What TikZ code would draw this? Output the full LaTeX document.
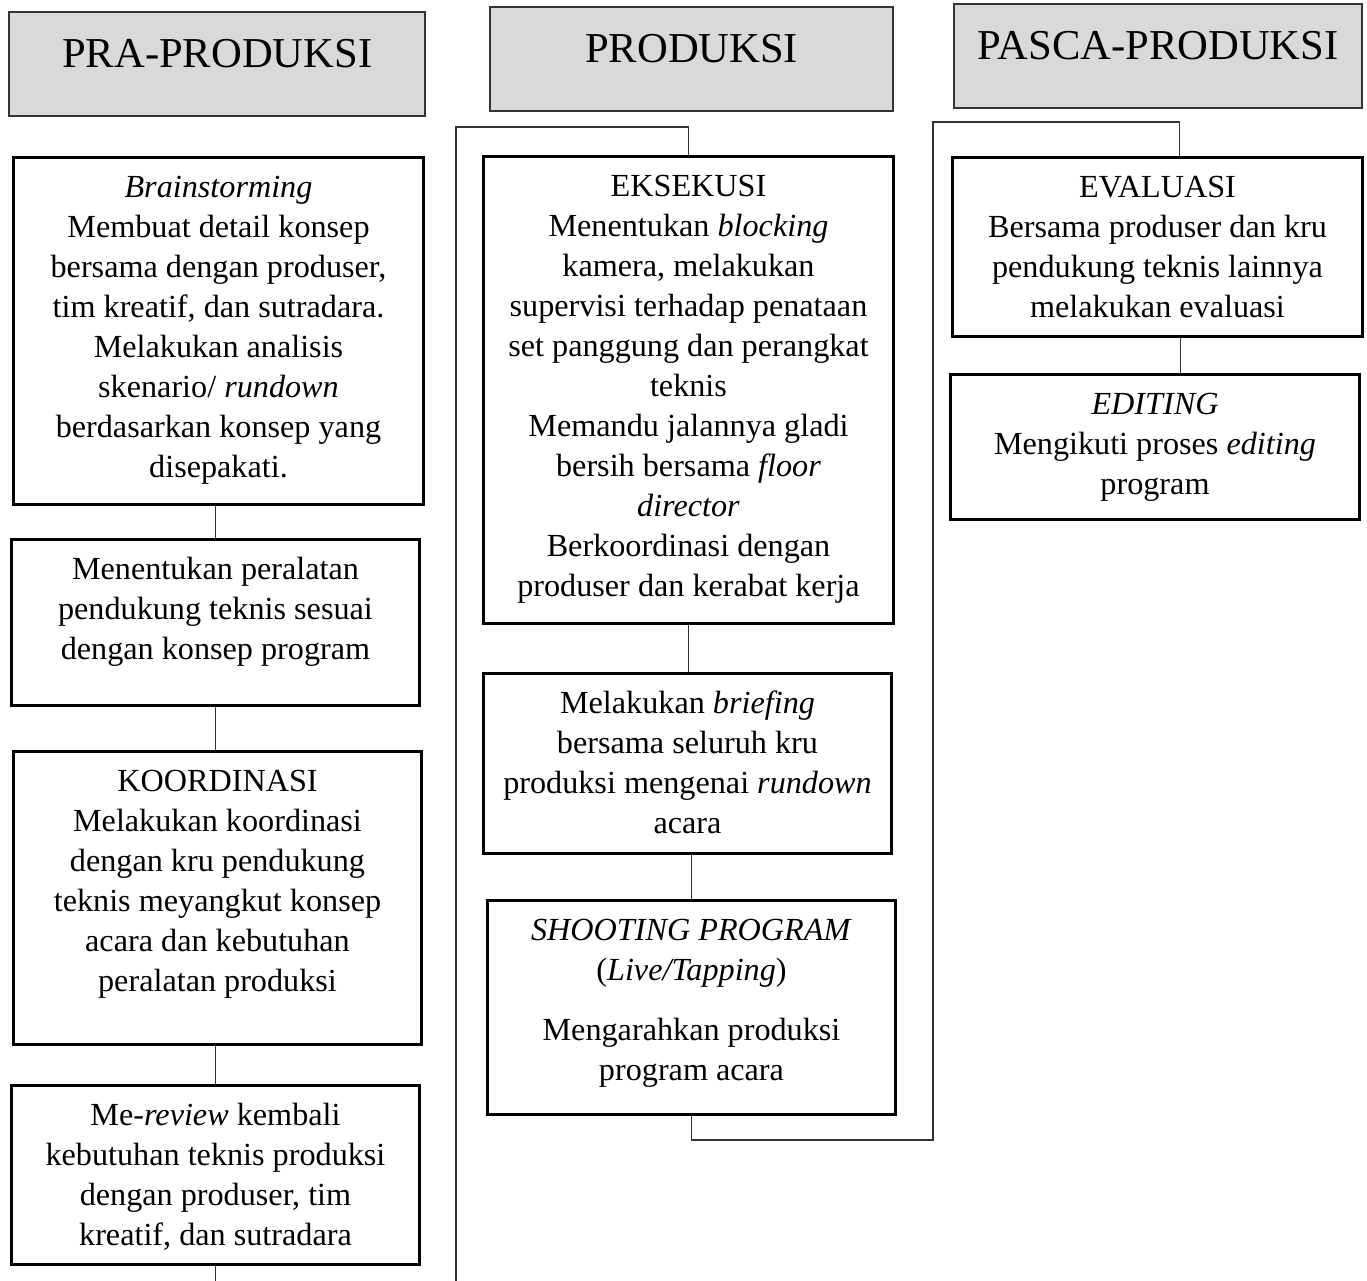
\documentclass[tikz,border=0pt]{standalone}
\usepackage{fontspec}
\setmainfont{Liberation Serif}
\usetikzlibrary{positioning}

\begin{document}
\begin{tikzpicture}[x=0.5pt, y=-0.5pt,
    kepala/.style={draw=black!80, line width=1.2pt, fill=black!15, anchor=north west, inner sep=0pt, text height=27.5pt, text depth=24.5pt, font=\fontsize{21.3}{25.6}\selectfont},
    kotak/.style={draw, line width=1.5pt, anchor=north west, inner sep=0pt},
    isi/.style={anchor=north, inner sep=0pt, align=center, font=\fontsize{16.1}{20}\selectfont},
    garis/.style={line width=0.7pt, black!80}]
    \useasboundingbox (0,0) rectangle (1367,1281);

    % Pra-produksi
    \node[kepala, minimum width=208pt] (pra) at (8,11) {PRA-PRODUKSI};
    \node[kotak, minimum width=205pt, minimum height=173.5pt] (b1) at (12,156) {};
    \node[isi] (tb1) at ([yshift=-6.5pt]b1.north) {\strut\textit{Brainstorming}\\ Membuat detail konsep\\ bersama dengan produser,\\ tim kreatif, dan sutradara.\\ Melakukan analisis\\ skenario/ \textit{rundown}\\ berdasarkan konsep yang\\ disepakati.};
    \node[kotak, minimum width=204pt, minimum height=83pt] (b2) at (10,538) {};
    \node[isi] (tb2) at ([yshift=-6.5pt]b2.north) {\strut Menentukan peralatan\\ pendukung teknis sesuai\\ dengan konsep program};
    \node[kotak, minimum width=204pt, minimum height=146.5pt] (b3) at (12,750) {};
    \node[isi] (tb3) at ([yshift=-6.5pt]b3.north) {\strut KOORDINASI\\ Melakukan koordinasi\\ dengan kru pendukung\\ teknis meyangkut konsep\\ acara dan kebutuhan\\ peralatan produksi};
    \node[kotak, minimum width=204pt, minimum height=89.5pt] (b4) at (10,1084) {};
    \node[isi] (tb4) at ([yshift=-6.5pt]b4.north) {\strut Me-\textit{review} kembali\\ kebutuhan teknis produksi\\ dengan produser, tim\\ kreatif, dan sutradara};

    \draw[garis] (b2.north |- b1.south) -- (b2.north);
    \draw[garis] (b2.south) -- (b2.south |- b3.north);
    \draw[garis] (b4.north |- b3.south) -- (b4.north);
    \coordinate (bawah1) at (213,1281);
    \draw[garis] (b4.south) -- (b4.south |- bawah1);

    % Produksi
    \node[kepala, minimum width=201.5pt] (prod) at (489,6) {PRODUKSI};
    \node[kotak, minimum width=205pt, minimum height=233.5pt] (e1) at (482,155) {};
    \node[isi] (te1) at ([yshift=-6.5pt]e1.north) {\strut EKSEKUSI\\ Menentukan \textit{blocking}\\ kamera, melakukan\\ supervisi terhadap penataan\\ set panggung dan perangkat\\ teknis\\ Memandu jalannya gladi\\ bersih bersama \textit{floor}\\ \textit{director}\\ Berkoordinasi dengan\\ produser dan kerabat kerja};
    \node[kotak, minimum width=204pt, minimum height=90pt] (e2) at (482,672) {};
    \node[isi] (te2) at ([yshift=-6.5pt]e2.north) {\strut Melakukan \textit{briefing}\\ bersama seluruh kru\\ produksi mengenai \textit{rundown}\\ acara};
    \node[kotak, minimum width=204pt, minimum height=107pt] (e3) at (486,899) {};
    \node[isi] (te3) at ([yshift=-6.5pt]e3.north) {\strut\textit{SHOOTING PROGRAM}\\ (\textit{Live/Tapping})\\[10pt] Mengarahkan produksi\\ program acara};

    \coordinate (kiri1) at (456,127);
    \coordinate (kiri2) at (456,1281);
    \draw[garis] (kiri2) -- (kiri1) -| (e1.north);
    \draw[garis] (e1.south) -- (e1.south |- e2.north);
    \draw[garis] (e3.north |- e2.south) -- (e3.north);

    % Pasca-produksi
    \node[kepala, minimum width=204pt] (pasca) at (953,3) {PASCA-PRODUKSI};
    \node[kotak, minimum width=205pt, minimum height=89.5pt] (p1) at (951,156) {};
    \node[isi] (tp1) at ([yshift=-6.5pt]p1.north) {\strut EVALUASI\\ Bersama produser dan kru\\ pendukung teknis lainnya\\ melakukan evaluasi};
    \node[kotak, minimum width=204.5pt, minimum height=72.5pt] (p2) at (949,373) {};
    \node[isi] (tp2) at ([yshift=-6.5pt]p2.north) {\strut\textit{EDITING}\\ Mengikuti proses \textit{editing}\\ program};

    \coordinate (kanan1) at (933,122);
    \coordinate (kanan2) at (933,1140);
    \draw[garis] (e3.south) |- (kanan2) -- (kanan1) -| ([xshift=11pt]p1.north);
    \draw[garis] ([xshift=11.5pt]p1.south) -- ([xshift=11.5pt]p1.south |- p2.north);
\end{tikzpicture}
\end{document}
